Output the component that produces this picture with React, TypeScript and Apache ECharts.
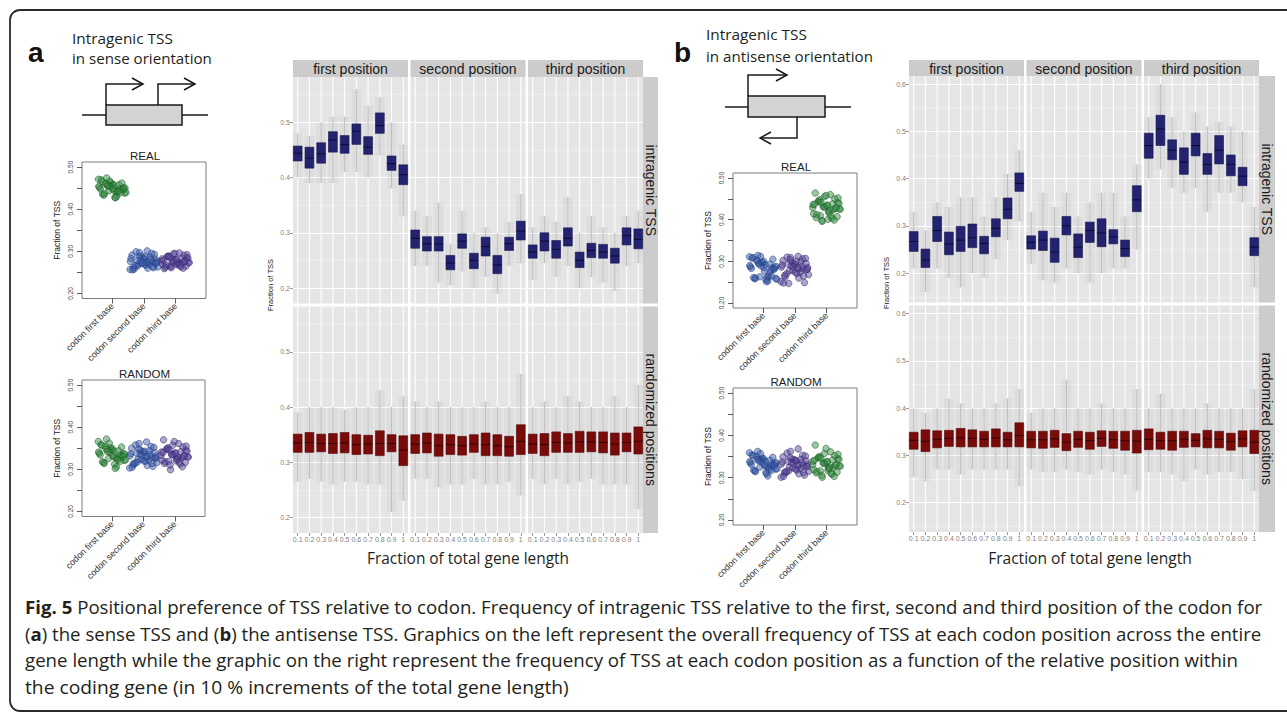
import React, { useEffect, useRef } from "react";
import * as echarts from "echarts";

// ---------------- data ----------------
const codonCategories = ["codon first base", "codon second base", "codon third base"];
const geneFractionTicks = [1, 2, 3, 4, 5, 6, 7, 8, 9, 10];
const geneFractionLabels = ["0.1", "0.2", "0.3", "0.4", "0.5", "0.6", "0.7", "0.8", "0.9", "1"];
const facetColumnLabels = ["first position", "second position", "third position"];
const facetRowLabels = ["intragenic TSS", "randomized positions"];
const baseRTickValues = [0.2, 0.25, 0.3, 0.35, 0.4, 0.45, 0.5];
const baseRLabelValues = [0.2, 0.3, 0.4, 0.5];
const senseMajorTicks = [0.2, 0.3, 0.4, 0.5];
const senseMinorTicks = [0.25, 0.35, 0.45, 0.55];
const antisenseMajorTicks = [0.2, 0.3, 0.4, 0.5, 0.6];
const antisenseMinorTicks = [0.15, 0.25, 0.35, 0.45, 0.55];

// horizontal jitter (category units) shared by the strip-chart clouds
const jitterOffsets = [-0.41, 0.12, -0.05, 0.33, -0.27, 0.21, -0.36, 0.04, 0.39, -0.14, 0.27, -0.22, 0.08, -0.43, 0.17, -0.09, 0.36, -0.31, 0.01, 0.24, -0.18, 0.43, -0.02, 0.14, -0.38, 0.3, -0.11, 0.06, -0.25, 0.4, -0.33, 0.19, -0.07, 0.1, -0.2, 0.35, -0.44, 0.26, -0.15, 0.02];

// Panel a (sense) strip charts: fraction of TSS per gene
const senseRealFirst = [0.452, 0.441, 0.463, 0.447, 0.433, 0.458, 0.47, 0.445, 0.438, 0.456, 0.449, 0.461, 0.428, 0.454, 0.443, 0.467, 0.451, 0.436, 0.459, 0.446, 0.474, 0.44, 0.455, 0.431, 0.448, 0.462, 0.444, 0.457, 0.437, 0.45, 0.466, 0.442, 0.453, 0.427, 0.46, 0.447, 0.471, 0.439, 0.455, 0.449];
const senseRealSecond = [0.276, 0.268, 0.289, 0.272, 0.258, 0.281, 0.295, 0.27, 0.263, 0.284, 0.274, 0.291, 0.261, 0.279, 0.267, 0.299, 0.277, 0.262, 0.286, 0.271, 0.301, 0.265, 0.282, 0.257, 0.275, 0.288, 0.269, 0.283, 0.26, 0.273, 0.293, 0.266, 0.28, 0.256, 0.287, 0.272, 0.297, 0.264, 0.278, 0.274];
const senseRealThird = [0.279, 0.27, 0.288, 0.274, 0.262, 0.283, 0.294, 0.272, 0.266, 0.285, 0.277, 0.291, 0.264, 0.281, 0.269, 0.296, 0.278, 0.265, 0.287, 0.273, 0.259, 0.268, 0.284, 0.261, 0.276, 0.289, 0.271, 0.282, 0.263, 0.275, 0.292, 0.267, 0.28, 0.26, 0.286, 0.273, 0.295, 0.266, 0.279, 0.276];
const senseRandomFirst = [0.338, 0.327, 0.351, 0.332, 0.316, 0.344, 0.359, 0.33, 0.321, 0.347, 0.335, 0.355, 0.312, 0.341, 0.325, 0.362, 0.337, 0.318, 0.349, 0.329, 0.372, 0.323, 0.345, 0.306, 0.334, 0.353, 0.326, 0.343, 0.314, 0.336, 0.357, 0.322, 0.34, 0.302, 0.348, 0.331, 0.366, 0.319, 0.342, 0.333];
const senseRandomSecond = [0.332, 0.321, 0.345, 0.327, 0.311, 0.339, 0.354, 0.324, 0.316, 0.342, 0.33, 0.35, 0.307, 0.336, 0.319, 0.358, 0.331, 0.313, 0.344, 0.323, 0.365, 0.317, 0.34, 0.303, 0.328, 0.348, 0.32, 0.337, 0.309, 0.333, 0.352, 0.315, 0.335, 0.305, 0.343, 0.326, 0.361, 0.314, 0.338, 0.329];
const senseRandomThird = [0.336, 0.325, 0.349, 0.33, 0.314, 0.342, 0.357, 0.328, 0.319, 0.345, 0.333, 0.353, 0.31, 0.339, 0.322, 0.361, 0.335, 0.316, 0.347, 0.327, 0.37, 0.32, 0.343, 0.299, 0.331, 0.351, 0.324, 0.341, 0.312, 0.334, 0.355, 0.318, 0.338, 0.306, 0.346, 0.329, 0.366, 0.317, 0.34, 0.332];

// Panel b (antisense) strip charts
const antiRealFirst = [0.287, 0.262, 0.298, 0.281, 0.258, 0.293, 0.308, 0.276, 0.259, 0.295, 0.284, 0.303, 0.256, 0.29, 0.264, 0.312, 0.286, 0.261, 0.3, 0.279, 0.314, 0.257, 0.296, 0.253, 0.283, 0.305, 0.263, 0.292, 0.26, 0.288, 0.309, 0.272, 0.289, 0.251, 0.301, 0.282, 0.311, 0.265, 0.294, 0.285];
const antiRealSecond = [0.286, 0.274, 0.297, 0.28, 0.263, 0.292, 0.306, 0.277, 0.268, 0.294, 0.283, 0.302, 0.249, 0.289, 0.271, 0.31, 0.285, 0.266, 0.299, 0.278, 0.312, 0.247, 0.295, 0.251, 0.282, 0.304, 0.273, 0.291, 0.26, 0.287, 0.307, 0.27, 0.288, 0.248, 0.3, 0.281, 0.309, 0.265, 0.293, 0.284];
const antiRealThird = [0.432, 0.419, 0.445, 0.426, 0.405, 0.438, 0.455, 0.422, 0.41, 0.441, 0.429, 0.45, 0.398, 0.435, 0.414, 0.46, 0.431, 0.407, 0.443, 0.424, 0.464, 0.401, 0.439, 0.396, 0.427, 0.448, 0.416, 0.436, 0.403, 0.43, 0.452, 0.412, 0.434, 0.399, 0.442, 0.425, 0.458, 0.409, 0.437, 0.428];
const antiRandomFirst = [0.335, 0.326, 0.346, 0.33, 0.316, 0.341, 0.354, 0.328, 0.32, 0.344, 0.333, 0.35, 0.312, 0.338, 0.323, 0.357, 0.334, 0.318, 0.345, 0.327, 0.362, 0.321, 0.342, 0.304, 0.331, 0.348, 0.325, 0.339, 0.314, 0.336, 0.352, 0.319, 0.337, 0.309, 0.343, 0.329, 0.359, 0.317, 0.34, 0.332];
const antiRandomSecond = [0.332, 0.321, 0.344, 0.327, 0.311, 0.339, 0.353, 0.324, 0.315, 0.342, 0.33, 0.349, 0.306, 0.336, 0.318, 0.358, 0.331, 0.313, 0.343, 0.323, 0.368, 0.316, 0.34, 0.301, 0.328, 0.347, 0.32, 0.337, 0.309, 0.333, 0.351, 0.314, 0.335, 0.303, 0.341, 0.326, 0.362, 0.312, 0.338, 0.329];
const antiRandomThird = [0.334, 0.322, 0.348, 0.328, 0.311, 0.342, 0.357, 0.325, 0.316, 0.345, 0.331, 0.352, 0.305, 0.338, 0.319, 0.361, 0.333, 0.313, 0.347, 0.324, 0.377, 0.317, 0.343, 0.301, 0.329, 0.35, 0.321, 0.339, 0.308, 0.335, 0.355, 0.315, 0.337, 0.303, 0.346, 0.327, 0.369, 0.31, 0.341, 0.33];

// Box plots per 10% of gene length: [min, q1, median, q3, max]
const senseIntraFirst = [[0.4, 0.43, 0.444, 0.457, 0.48], [0.39, 0.417, 0.435, 0.455, 0.475], [0.39, 0.426, 0.443, 0.463, 0.5], [0.39, 0.446, 0.468, 0.483, 0.51], [0.41, 0.444, 0.46, 0.476, 0.51], [0.41, 0.46, 0.484, 0.497, 0.56], [0.4, 0.442, 0.455, 0.474, 0.53], [0.44, 0.48, 0.494, 0.517, 0.545], [0.38, 0.413, 0.425, 0.439, 0.5], [0.33, 0.387, 0.405, 0.423, 0.46]];
const senseIntraSecond = [[0.24, 0.272, 0.29, 0.305, 0.34], [0.24, 0.267, 0.28, 0.293, 0.33], [0.21, 0.267, 0.28, 0.293, 0.355], [0.205, 0.233, 0.245, 0.259, 0.28], [0.23, 0.272, 0.285, 0.298, 0.34], [0.2, 0.235, 0.25, 0.263, 0.3], [0.22, 0.258, 0.275, 0.292, 0.31], [0.19, 0.226, 0.242, 0.259, 0.3], [0.24, 0.268, 0.28, 0.292, 0.32], [0.245, 0.287, 0.303, 0.321, 0.37]];
const senseIntraThird = [[0.215, 0.254, 0.265, 0.278, 0.31], [0.245, 0.267, 0.285, 0.3, 0.33], [0.22, 0.254, 0.27, 0.286, 0.32], [0.24, 0.276, 0.29, 0.309, 0.365], [0.2, 0.237, 0.25, 0.265, 0.3], [0.22, 0.255, 0.268, 0.281, 0.33], [0.21, 0.254, 0.265, 0.279, 0.31], [0.195, 0.245, 0.258, 0.272, 0.3], [0.24, 0.278, 0.295, 0.309, 0.33], [0.245, 0.271, 0.288, 0.307, 0.34]];
const senseRandFirst = [[0.265, 0.318, 0.335, 0.351, 0.39], [0.27, 0.318, 0.336, 0.354, 0.4], [0.265, 0.319, 0.334, 0.351, 0.4], [0.26, 0.316, 0.334, 0.352, 0.4], [0.265, 0.317, 0.335, 0.354, 0.395], [0.265, 0.314, 0.332, 0.35, 0.4], [0.26, 0.315, 0.333, 0.349, 0.4], [0.26, 0.312, 0.334, 0.357, 0.43], [0.21, 0.319, 0.334, 0.35, 0.4], [0.23, 0.294, 0.322, 0.348, 0.42]];
const senseRandSecond = [[0.27, 0.316, 0.333, 0.35, 0.41], [0.27, 0.317, 0.335, 0.353, 0.4], [0.255, 0.311, 0.33, 0.351, 0.41], [0.26, 0.314, 0.332, 0.35, 0.4], [0.26, 0.313, 0.33, 0.347, 0.4], [0.27, 0.318, 0.333, 0.35, 0.4], [0.26, 0.312, 0.332, 0.353, 0.41], [0.26, 0.312, 0.33, 0.35, 0.4], [0.265, 0.311, 0.328, 0.347, 0.4], [0.24, 0.314, 0.338, 0.368, 0.46]];
const senseRandThird = [[0.27, 0.316, 0.333, 0.351, 0.4], [0.26, 0.312, 0.332, 0.352, 0.41], [0.27, 0.318, 0.336, 0.355, 0.4], [0.26, 0.318, 0.335, 0.352, 0.42], [0.265, 0.318, 0.337, 0.356, 0.41], [0.27, 0.319, 0.337, 0.355, 0.4], [0.26, 0.317, 0.336, 0.355, 0.4], [0.26, 0.313, 0.333, 0.353, 0.42], [0.26, 0.319, 0.336, 0.353, 0.4], [0.215, 0.315, 0.338, 0.364, 0.44]];
const antiIntraFirst = [[0.21, 0.246, 0.267, 0.288, 0.33], [0.16, 0.212, 0.228, 0.251, 0.29], [0.21, 0.267, 0.29, 0.32, 0.35], [0.19, 0.239, 0.262, 0.287, 0.34], [0.17, 0.246, 0.27, 0.299, 0.36], [0.2, 0.254, 0.275, 0.304, 0.36], [0.19, 0.241, 0.263, 0.278, 0.32], [0.23, 0.277, 0.295, 0.315, 0.36], [0.27, 0.315, 0.335, 0.359, 0.41], [0.31, 0.373, 0.39, 0.412, 0.46]];
const antiIntraSecond = [[0.22, 0.251, 0.265, 0.279, 0.33], [0.185, 0.248, 0.27, 0.289, 0.37], [0.18, 0.223, 0.245, 0.274, 0.34], [0.21, 0.281, 0.3, 0.32, 0.37], [0.2, 0.233, 0.255, 0.283, 0.32], [0.18, 0.265, 0.29, 0.308, 0.35], [0.2, 0.256, 0.285, 0.315, 0.37], [0.21, 0.262, 0.277, 0.292, 0.37], [0.21, 0.235, 0.252, 0.27, 0.32], [0.25, 0.33, 0.355, 0.385, 0.43]];
const antiIntraThird = [[0.4, 0.443, 0.47, 0.496, 0.53], [0.42, 0.47, 0.505, 0.534, 0.6], [0.38, 0.44, 0.46, 0.482, 0.53], [0.37, 0.409, 0.435, 0.465, 0.5], [0.38, 0.448, 0.47, 0.496, 0.54], [0.33, 0.409, 0.43, 0.453, 0.51], [0.37, 0.431, 0.46, 0.491, 0.52], [0.37, 0.406, 0.43, 0.45, 0.51], [0.35, 0.385, 0.405, 0.424, 0.5], [0.17, 0.237, 0.255, 0.275, 0.34]];
const antiRandFirst = [[0.255, 0.313, 0.332, 0.349, 0.4], [0.245, 0.308, 0.33, 0.354, 0.39], [0.27, 0.316, 0.334, 0.352, 0.4], [0.27, 0.319, 0.336, 0.353, 0.42], [0.26, 0.318, 0.337, 0.357, 0.41], [0.27, 0.318, 0.336, 0.354, 0.4], [0.27, 0.318, 0.334, 0.351, 0.4], [0.27, 0.318, 0.337, 0.356, 0.41], [0.27, 0.318, 0.333, 0.349, 0.42], [0.235, 0.318, 0.342, 0.369, 0.44]];
const antiRandSecond = [[0.27, 0.316, 0.333, 0.351, 0.39], [0.265, 0.315, 0.333, 0.351, 0.4], [0.265, 0.317, 0.335, 0.353, 0.4], [0.27, 0.31, 0.328, 0.346, 0.46], [0.265, 0.317, 0.334, 0.351, 0.4], [0.26, 0.313, 0.331, 0.349, 0.4], [0.27, 0.319, 0.336, 0.352, 0.41], [0.265, 0.315, 0.333, 0.351, 0.4], [0.26, 0.311, 0.331, 0.351, 0.4], [0.225, 0.305, 0.33, 0.353, 0.44]];
const antiRandThird = [[0.265, 0.312, 0.334, 0.356, 0.4], [0.265, 0.313, 0.331, 0.349, 0.43], [0.26, 0.311, 0.331, 0.351, 0.4], [0.245, 0.317, 0.334, 0.351, 0.4], [0.27, 0.318, 0.332, 0.346, 0.4], [0.26, 0.316, 0.335, 0.353, 0.41], [0.265, 0.316, 0.334, 0.351, 0.4], [0.265, 0.311, 0.329, 0.347, 0.4], [0.25, 0.318, 0.335, 0.352, 0.4], [0.225, 0.304, 0.328, 0.353, 0.44]];

// caption
const captionLines = [
  [{ t: "Fig. 5", b: true }, { t: " Positional preference of TSS relative to codon. Frequency of intragenic TSS relative to the first, second and third position of the codon for" }],
  [{ t: "(" }, { t: "a", b: true }, { t: ") the sense TSS and (" }, { t: "b", b: true }, { t: ") the antisense TSS. Graphics on the left represent the overall frequency of TSS at each codon position across the entire" }],
  [{ t: "gene length while the graphic on the right represent the frequency of TSS at each codon position as a function of the relative position within" }],
  [{ t: "the coding gene (in 10 % increments of the total gene length)" }],
];

// ---------------- styling / layout ----------------
const ARIAL = '"Liberation Sans", Arial, Helvetica, sans-serif';
const MYRIAD = '"Open Sans", sans-serif';
const INK = "#231f20";
const GREEN = { fill: "rgba(46,139,62,0.6)", stroke: "#1e5a26" };
const BLUE = { fill: "rgba(52,86,165,0.6)", stroke: "#263f85" };
const PURPLE = { fill: "rgba(84,64,150,0.6)", stroke: "#38296f" };
const NAVY = { fill: "#232370", stroke: "#16164f", median: "#0b0b33" };
const RED = { fill: "#7a0b0b", stroke: "#560606", median: "#300000" };

const LAYOUT = {
  aReal: { left: 82, top: 162, width: 124, height: 136.5 },
  aRandom: { left: 82, top: 380, width: 123, height: 136.5 },
  bReal: { left: 733, top: 173, width: 124, height: 135 },
  bRandom: { left: 733, top: 388, width: 124, height: 137 },
};
const FACET_A = { colLefts: [293, 410.5, 528], colWidth: 115, rowTops: [77, 306.5], rowHeight: 226.5, yMin: 0.172, yMax: 0.582, stripTop: 60, stripH: 17, rightX: 643, rightW: 15, yTitle: [270, 285], xTitle: [468, 557.5, 202] };
const FACET_B = { colLefts: [909, 1026.5, 1144], colWidth: 115, rowTops: [76, 305.5], rowHeight: 226.5, yMin: 0.138, yMax: 0.617, stripTop: 60, stripH: 16, rightX: 1259, rightW: 16, yTitle: [886, 283], xTitle: [1090, 557.5, 204] };

let measureCtx: CanvasRenderingContext2D | null = null;
function textWidth(text: string, size: number, family: string, weight: string) {
  if (!measureCtx) measureCtx = document.createElement("canvas").getContext("2d");
  if (!measureCtx) return text.length * size * 0.5;
  measureCtx.font = `${weight} ${size}px ${family}`;
  return measureCtx.measureText(text).width;
}

function fittedText(segments: { t: string; b?: boolean }[], x: number, y: number, target: number, size: number, family: string, align: string, fill: string) {
  const natural = segments.reduce((s, seg) => s + textWidth(seg.t, size, family, seg.b ? "bold" : "normal"), 0);
  const text = segments.map((s) => (s.b ? `{b|${s.t}}` : s.t)).join("");
  return {
    type: "text",
    x,
    y,
    scaleX: target / natural,
    style: {
      text,
      fontSize: size,
      fontFamily: family,
      fill,
      align,
      verticalAlign: "middle",
      textAlign: align,
      textVerticalAlign: "middle",
      rich: { b: { fontWeight: "bold", fontSize: size, fontFamily: family, fill } },
    },
  };
}

function plainText(text: string, x: number, y: number, size: number, family: string, fill: string, extra: any = {}) {
  return {
    type: "text",
    x,
    y,
    ...extra,
    style: {
      text,
      fontSize: size,
      fontFamily: family,
      fontWeight: extra.weight || "normal",
      fill,
      align: extra.align || "center",
      verticalAlign: "middle",
      textAlign: extra.align || "center",
      textVerticalAlign: "middle",
    },
  };
}

const makeBoxRender = (col: { fill: string; stroke: string; median: string }) => (params: any, api: any) => {
  const x = api.value(0);
  const pMin = api.coord([x, api.value(1)]);
  const pQ1 = api.coord([x, api.value(2)]);
  const pMed = api.coord([x, api.value(3)]);
  const pQ3 = api.coord([x, api.value(4)]);
  const pMax = api.coord([x, api.value(5)]);
  const w = api.size([0.75, 0])[0];
  const cs = params.coordSys;
  return {
    type: "group",
    children: [
      { type: "line", shape: { x1: pMin[0], y1: cs.y, x2: pMin[0], y2: cs.y + cs.height }, style: { stroke: "#ffffff", lineWidth: 1.1 } },
      { type: "rect", shape: { x: pMin[0] - w * 0.55, y: pMax[1], width: w * 1.1, height: pMin[1] - pMax[1] }, style: { fill: "rgba(80,80,80,0.05)" } },
      { type: "line", shape: { x1: pMin[0], y1: pMin[1], x2: pMax[0], y2: pMax[1] }, style: { stroke: "#959595", lineWidth: 0.6 } },
      { type: "rect", shape: { x: pQ3[0] - w / 2, y: pQ3[1], width: w, height: pQ1[1] - pQ3[1] }, style: { fill: col.fill, stroke: col.stroke, lineWidth: 0.6 } },
      { type: "line", shape: { x1: pMed[0] - w / 2, y1: pMed[1], x2: pMed[0] + w / 2, y2: pMed[1] }, style: { stroke: col.median, lineWidth: 1 } },
    ],
  };
};

function buildOption() {
  const grid: any[] = [];
  const xAxis: any[] = [];
  const yAxis: any[] = [];
  const series: any[] = [];
  const graphics: any[] = [];

  // ---------- strip charts (REAL / RANDOM) ----------
  const stripCharts = [
    { box: LAYOUT.aReal, title: "REAL", clouds: [senseRealFirst, senseRealSecond, senseRealThird], palette: [GREEN, BLUE, PURPLE] },
    { box: LAYOUT.aRandom, title: "RANDOM", clouds: [senseRandomFirst, senseRandomSecond, senseRandomThird], palette: [GREEN, BLUE, PURPLE] },
    { box: LAYOUT.bReal, title: "REAL", clouds: [antiRealFirst, antiRealSecond, antiRealThird], palette: [BLUE, PURPLE, GREEN] },
    { box: LAYOUT.bRandom, title: "RANDOM", clouds: [antiRandomFirst, antiRandomSecond, antiRandomThird], palette: [BLUE, PURPLE, GREEN] },
  ];
  stripCharts.forEach((p) => {
    const gi = grid.length;
    grid.push({ left: p.box.left, top: p.box.top, width: p.box.width, height: p.box.height, show: true, borderColor: "#7d7d7d", borderWidth: 1, backgroundColor: "transparent" });
    const xi = xAxis.length;
    xAxis.push({
      type: "value", gridIndex: gi, position: "bottom", min: 0.04, max: 3.96,
      axisLine: { show: false }, splitLine: { show: false },
      axisTick: { show: true, customValues: [1, 2, 3], length: 5, lineStyle: { color: "#333", width: 0.8 } },
      axisLabel: { show: true, customValues: [1, 2, 3], formatter: (v: number) => codonCategories[Math.round(v) - 1] || "", rotate: 45, fontSize: 9, color: "#333", margin: 6, fontFamily: ARIAL },
    });
    const yi = yAxis.length;
    yAxis.push({
      type: "value", gridIndex: gi, position: "left", min: 0.188, max: 0.512,
      axisLine: { show: false }, splitLine: { show: false },
      axisTick: { show: true, customValues: baseRTickValues, length: 5, lineStyle: { color: "#333", width: 0.8 } },
      axisLabel: { show: true, customValues: baseRLabelValues, formatter: (v: number) => v.toFixed(2), rotate: 90, fontSize: 6.5, color: "#444", margin: 8, fontFamily: ARIAL },
      name: "Fraction of TSS", nameLocation: "middle", nameRotate: 90, nameGap: 21,
      nameTextStyle: { fontSize: 8.5, color: "#222", fontFamily: ARIAL },
    });
    p.clouds.forEach((cloud, ci) => {
      series.push({
        type: "scatter", xAxisIndex: xi, yAxisIndex: yi, symbol: "circle", symbolSize: 6.5, silent: true,
        data: cloud.map((v, k) => [ci + 1 + jitterOffsets[(k + ci * 13) % jitterOffsets.length], v]),
        itemStyle: { color: p.palette[ci].fill, borderColor: p.palette[ci].stroke, borderWidth: 0.7 },
      });
    });
    graphics.push(plainText(p.title, p.box.left + p.box.width / 2 + 1, p.box.top - 6, 11.5, ARIAL, "#222"));
  });

  // ---------- faceted box plots ----------
  const facetPanels = [
    { L: FACET_A, major: senseMajorTicks, minor: senseMinorTicks, rows: [[senseIntraFirst, senseIntraSecond, senseIntraThird], [senseRandFirst, senseRandSecond, senseRandThird]] },
    { L: FACET_B, major: antisenseMajorTicks, minor: antisenseMinorTicks, rows: [[antiIntraFirst, antiIntraSecond, antiIntraThird], [antiRandFirst, antiRandSecond, antiRandThird]] },
  ];
  facetPanels.forEach((panel) => {
    const L = panel.L;
    for (let r = 0; r < 2; r++) {
      for (let c = 0; c < 3; c++) {
        const gi = grid.length;
        grid.push({ left: L.colLefts[c], top: L.rowTops[r], width: L.colWidth, height: L.rowHeight, show: true, backgroundColor: "#e5e5e5", borderWidth: 0 });
        const xi = xAxis.length;
        xAxis.push({
          type: "value", gridIndex: gi, position: "bottom", min: 0.6, max: 10.4, minInterval: 1, maxInterval: 1,
          axisLine: { show: false }, splitLine: { show: false },
          axisTick: { show: r === 1, customValues: geneFractionTicks, length: 3, lineStyle: { color: "#7f7f7f", width: 0.8 } },
          axisLabel: { show: r === 1, customValues: geneFractionTicks, formatter: (v: number) => geneFractionLabels[Math.round(v) - 1] || "", fontSize: 7, color: "#7f7f7f", margin: 3, fontFamily: ARIAL },
        });
        yAxis.push({
          type: "value", gridIndex: gi, position: "left", min: L.yMin, max: L.yMax, minInterval: 0.05, maxInterval: 0.05,
          axisLine: { show: false },
          axisTick: { show: false, customValues: panel.minor },
          axisLabel: { show: false, customValues: panel.minor },
          splitLine: { show: true, lineStyle: { color: "#f2f2f2", width: 0.6 } },
        });
        const yMajor = yAxis.length;
        yAxis.push({
          type: "value", gridIndex: gi, position: "left", min: L.yMin, max: L.yMax, minInterval: 0.1, maxInterval: 0.1,
          axisLine: { show: false },
          axisTick: { show: c === 0, customValues: panel.major, length: 3, lineStyle: { color: "#7f7f7f", width: 0.8 } },
          axisLabel: { show: c === 0, customValues: panel.major, formatter: (v: number) => v.toFixed(1), fontSize: 7, color: "#7f7f7f", margin: 3, fontFamily: ARIAL },
          splitLine: { show: true, lineStyle: { color: "#ffffff", width: 1.1 } },
        });
        const boxes = panel.rows[r][c];
        series.push({
          type: "custom", xAxisIndex: xi, yAxisIndex: yMajor, silent: true,
          renderItem: makeBoxRender(r === 0 ? NAVY : RED),
          encode: { x: 0, y: [1, 2, 3, 4, 5] },
          data: boxes.map((b, i) => [geneFractionTicks[i], ...b]),
        });
      }
    }
    // strips on top
    for (let c = 0; c < 3; c++) {
      graphics.push({ type: "rect", shape: { x: L.colLefts[c], y: L.stripTop, width: L.colWidth, height: L.stripH }, style: { fill: "#cccccc" } });
      graphics.push(plainText(facetColumnLabels[c], L.colLefts[c] + L.colWidth / 2, L.stripTop + L.stripH / 2 + 0.5, 14, ARIAL, "#1a1a1a"));
    }
    // strips on the right
    for (let r = 0; r < 2; r++) {
      graphics.push({ type: "rect", shape: { x: L.rightX, y: L.rowTops[r], width: L.rightW, height: L.rowHeight }, style: { fill: "#cccccc" } });
      graphics.push(plainText(facetRowLabels[r], L.rightX + L.rightW / 2, L.rowTops[r] + L.rowHeight / 2, 14, ARIAL, "#1a1a1a", { rotation: -Math.PI / 2 }));
    }
    graphics.push(plainText("Fraction of TSS", L.yTitle[0], L.yTitle[1], 7.5, ARIAL, "#1a1a1a", { rotation: Math.PI / 2 }));
    graphics.push(fittedText([{ t: "Fraction of total gene length" }], L.xTitle[0], L.xTitle[1], L.xTitle[2], 16, MYRIAD, "center", INK));
  });

  // ---------- frame, labels, diagrams ----------
  graphics.push({ type: "rect", shape: { x: 10, y: 10, width: 1300, height: 701, r: 10 }, style: { fill: "none", stroke: "#2a2a2a", lineWidth: 1.8 } });
  graphics.push(plainText("a", 28, 52, 28, ARIAL, "#111", { align: "left", weight: "bold" }));
  graphics.push(plainText("b", 674, 52, 28, ARIAL, "#111", { align: "left", weight: "bold" }));
  graphics.push(fittedText([{ t: "Intragenic TSS" }], 72, 38, 101, 14, MYRIAD, "left", INK));
  graphics.push(fittedText([{ t: "in sense orientation" }], 72, 58, 140, 14, MYRIAD, "left", INK));
  graphics.push(fittedText([{ t: "Intragenic TSS" }], 706, 34.5, 101, 14, MYRIAD, "left", INK));
  graphics.push(fittedText([{ t: "in antisense orientation" }], 706, 56, 167, 14, MYRIAD, "left", INK));

  const stroke = { stroke: "#1a1a1a", lineWidth: 1.5, fill: "none" };
  // sense diagram
  graphics.push({ type: "line", shape: { x1: 82, y1: 115, x2: 106, y2: 115 }, style: stroke });
  graphics.push({ type: "line", shape: { x1: 182, y1: 115, x2: 208, y2: 115 }, style: stroke });
  graphics.push({ type: "rect", shape: { x: 106, y: 105, width: 76, height: 20 }, style: { fill: "#d4d4d4", stroke: "#1a1a1a", lineWidth: 1.5 } });
  graphics.push({ type: "polyline", shape: { points: [[106, 105], [106, 84], [143, 84]] }, style: stroke });
  graphics.push({ type: "polyline", shape: { points: [[132, 78], [143, 84], [132, 90]] }, style: stroke });
  graphics.push({ type: "polyline", shape: { points: [[158, 105], [158, 84], [195, 84]] }, style: stroke });
  graphics.push({ type: "polyline", shape: { points: [[184, 78], [195, 84], [184, 90]] }, style: stroke });
  // antisense diagram
  graphics.push({ type: "line", shape: { x1: 725, y1: 107, x2: 748, y2: 107 }, style: stroke });
  graphics.push({ type: "line", shape: { x1: 825, y1: 107, x2: 851, y2: 107 }, style: stroke });
  graphics.push({ type: "rect", shape: { x: 748, y: 96, width: 77, height: 21 }, style: { fill: "#d4d4d4", stroke: "#1a1a1a", lineWidth: 1.5 } });
  graphics.push({ type: "polyline", shape: { points: [[748, 96], [748, 75], [787, 75]] }, style: stroke });
  graphics.push({ type: "polyline", shape: { points: [[776, 69], [787, 75], [776, 81]] }, style: stroke });
  graphics.push({ type: "polyline", shape: { points: [[797, 117], [797, 138], [760, 138]] }, style: stroke });
  graphics.push({ type: "polyline", shape: { points: [[771, 132], [760, 138], [771, 144]] }, style: stroke });

  // caption
  const captionY = [607, 633.5, 660, 686.5];
  const captionW = [1238, 1237, 1214, 544];
  captionLines.forEach((segs, i) => {
    graphics.push(fittedText(segs, 25, captionY[i], captionW[i], 18, MYRIAD, "left", INK));
  });

  return {
    animation: false,
    backgroundColor: "#ffffff",
    grid,
    xAxis,
    yAxis,
    series,
    graphic: { elements: graphics },
  };
}

export default function App() {
  const ref = useRef<HTMLDivElement>(null);
  useEffect(() => {
    if (!ref.current) return;
    const chart = echarts.init(ref.current, null, { renderer: "svg" });
    chart.setOption(buildOption() as any);
    return () => chart.dispose();
  }, []);
  return <div ref={ref} style={{ position: "absolute", left: 0, top: 0, width: 1287, height: 712, background: "#fff" }} />;
}
